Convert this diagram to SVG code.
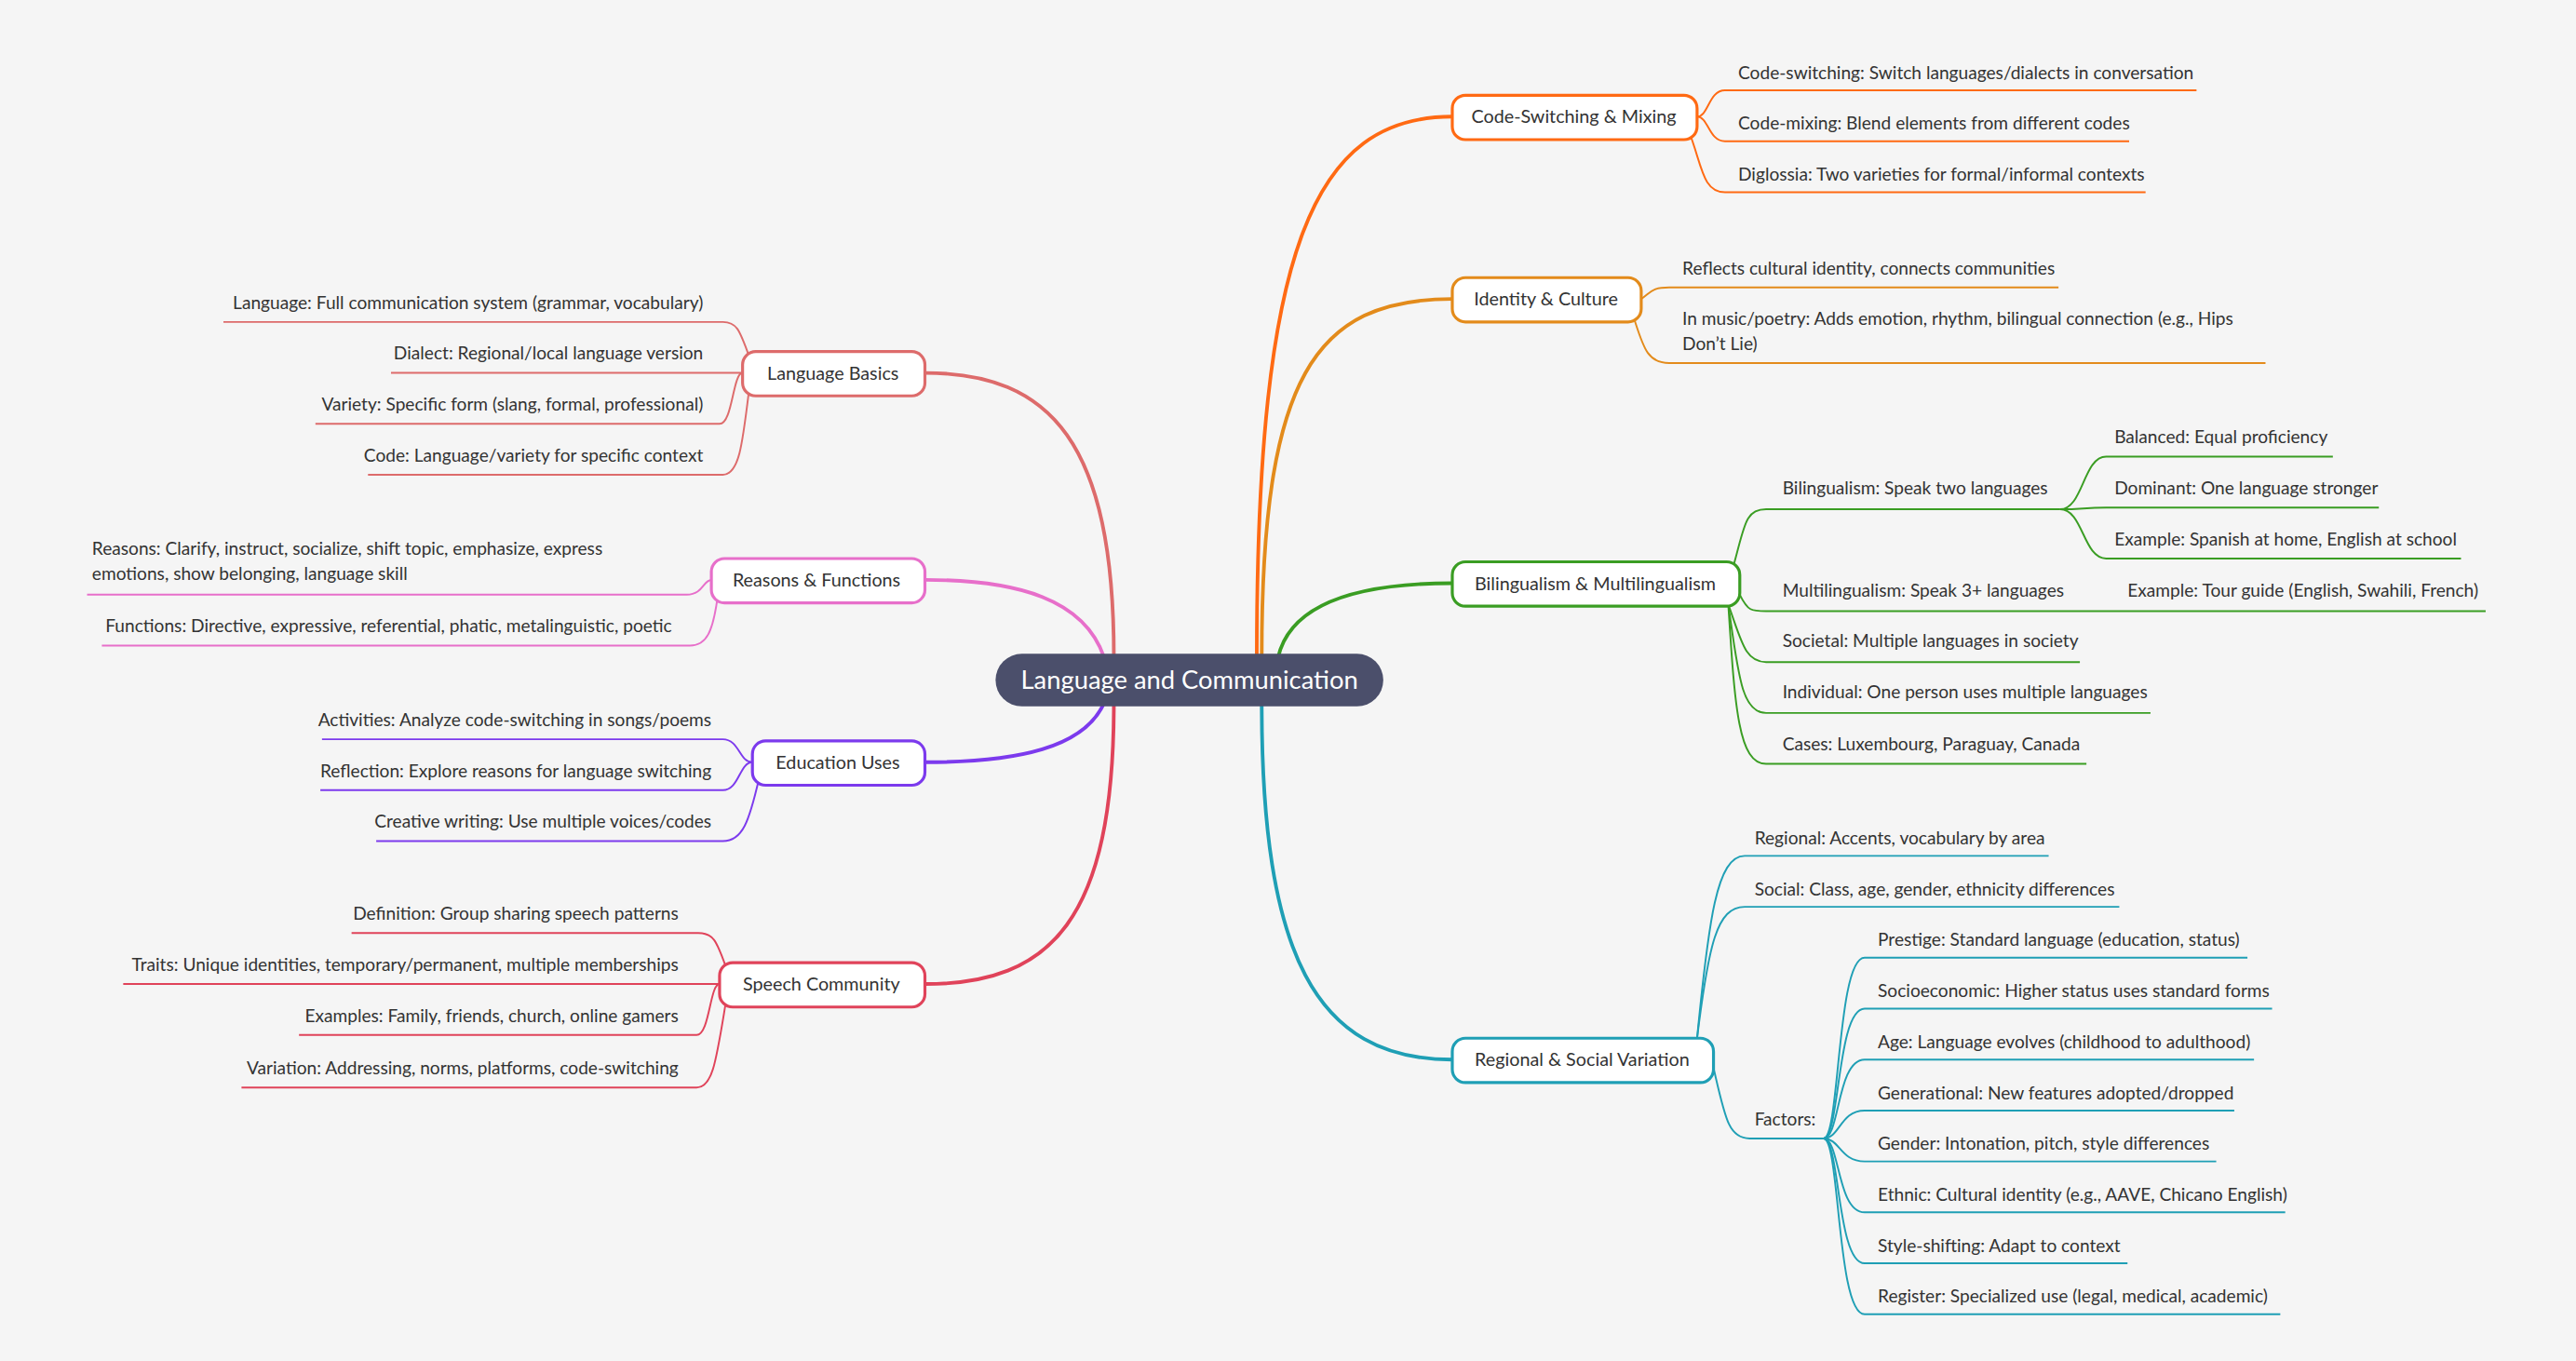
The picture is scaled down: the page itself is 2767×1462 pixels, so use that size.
<svg xmlns="http://www.w3.org/2000/svg" width="2767" height="1462" viewBox="0 0 2767 1462">
<style>
text{font-family:Lato,"Noto Sans",sans-serif;font-size:10.85px;fill:#333}
.n{font-size:11.2px;text-anchor:middle}
.e{text-anchor:end}
.c path{fill:none}
.b{fill:#fff;stroke-width:1.8}
</style>
<rect width="2767" height="1462" fill="#f5f5f5"/>
<g transform="scale(1.76467)">
<g id="connectors" class="c">
<path d="M765,400 C765,150 800,71 884,71" stroke="#ff6a13" stroke-width="2.2"/>
<path d="M768,400 C768,230 800,182 884,182" stroke="#e38b1b" stroke-width="2.2"/>
<path d="M778,400 C785,370 820,355 884,355" stroke="#3a9d23" stroke-width="2.2"/>
<path d="M768,428 C768,580 800,645 884,645" stroke="#1f9fb5" stroke-width="2.2"/>
<path d="M678,400 C678,270 640,227 563,227" stroke="#dd6b6b" stroke-width="2.2"/>
<path d="M672,400 C660,365 620,353 563,353" stroke="#e76fca" stroke-width="2.2"/>
<path d="M672,428 C660,455 620,464 563,464" stroke="#7c3aed" stroke-width="2.2"/>
<path d="M678,428 C678,560 640,599 563,599" stroke="#e0435a" stroke-width="2.2"/>
<g stroke="#ff6a13" stroke-width="1.1">
<path d="M1033,71 C1040,71 1040,55 1050,55 L1337,55"/>
<path d="M1033,71 C1040,71 1040,86 1050,86 L1296,86"/>
<path d="M1028,80 C1036,100 1036,117 1050,117 L1306,117"/>
</g>
<g stroke="#e38b1b" stroke-width="1.1">
<path d="M999,182 C1005,178 1005,175 1016,175 L1253,175"/>
<path d="M994,192 C1000,210 1002,221 1016,221 L1379,221"/>
</g>
<g stroke="#3a9d23" stroke-width="1.1">
<path d="M1055,345 C1062,320 1062,310 1075,310 L1254,310"/>
<path d="M1254,310 C1268,310 1268,278 1282,278 L1420,278"/>
<path d="M1254,310 C1268,310 1268,309 1282,309 L1448,309"/>
<path d="M1254,310 C1268,310 1268,340 1282,340 L1498,340"/>
<path d="M1059,362 C1064,372 1066,372 1075,372 L1513,372"/>
<path d="M1052,368 C1060,390 1062,403 1075,403 L1266,403"/>
<path d="M1052,368 C1058,410 1060,434 1075,434 L1309,434"/>
<path d="M1052,368 C1056,430 1058,465 1075,465 L1270,465"/>
</g>
<g stroke="#1f9fb5" stroke-width="1.1">
<path d="M1033,632 C1040,560 1045,521 1062,521 L1247,521"/>
<path d="M1033,632 C1040,575 1045,552 1062,552 L1290,552"/>
<path d="M1043,650 C1050,680 1052,693 1065,693 L1110,693"/>
<path d="M1110,693 C1120,693 1118,583 1135,583 L1368,583"/>
<path d="M1110,693 C1120,693 1118,614 1135,614 L1383,614"/>
<path d="M1110,693 C1120,693 1118,645 1135,645 L1372,645"/>
<path d="M1110,693 C1120,693 1120,676 1135,676 L1360,676"/>
<path d="M1110,693 C1120,693 1120,707 1135,707 L1349,707"/>
<path d="M1110,693 C1120,693 1118,738 1135,738 L1391,738"/>
<path d="M1110,693 C1120,693 1118,769 1135,769 L1295,769"/>
<path d="M1110,693 C1120,693 1118,800 1135,800 L1388,800"/>
</g>
<g stroke="#dd6b6b" stroke-width="1.1">
<path d="M456,217 C450,200 448,196 440,196 L136,196"/>
<path d="M452,227 L238,227"/>
<path d="M452,227 C446,227 446,258 438,258 L192,258"/>
<path d="M456,237 C452,270 450,289 440,289 L224,289"/>
</g>
<g stroke="#e76fca" stroke-width="1.1">
<path d="M433,353 C428,353 428,362 418,362 L53,362"/>
<path d="M437,362 C434,385 430,393 420,393 L62,393"/>
</g>
<g stroke="#7c3aed" stroke-width="1.1">
<path d="M458,464 C450,464 450,450 440,450 L196,450"/>
<path d="M458,464 C450,464 450,481 440,481 L195,481"/>
<path d="M462,474 C456,500 452,512 440,512 L229,512"/>
</g>
<g stroke="#e0435a" stroke-width="1.1">
<path d="M442,589 C436,572 434,568 425,568 L214,568"/>
<path d="M438,599 L75,599"/>
<path d="M438,599 C432,599 432,630 424,630 L182,630"/>
<path d="M442,609 C436,645 434,662 424,662 L147,662"/>
</g>
</g>

<g id="root"><rect x="606" y="398" width="236" height="32" rx="16" fill="#4b4f6b"/><text x="724" y="419.5" class="n" style="font-size:15.5px;fill:#fff">Language and Communication</text></g>

<g id="code-switching"><rect class="b" x="884" y="58" width="149" height="27" rx="8" stroke="#ff6a13"/><text class="n" x="958" y="75">Code-Switching &amp; Mixing</text>
<text x="1058" y="48">Code-switching: Switch languages/dialects in conversation</text>
<text x="1058" y="79">Code-mixing: Blend elements from different codes</text>
<text x="1058" y="110">Diglossia: Two varieties for formal/informal contexts</text></g>

<g id="identity"><rect class="b" x="884" y="169" width="115" height="27" rx="8" stroke="#e38b1b"/><text class="n" x="941" y="186">Identity &amp; Culture</text>
<text x="1024" y="167">Reflects cultural identity, connects communities</text>
<text x="1024" y="198">In music/poetry: Adds emotion, rhythm, bilingual connection (e.g., Hips</text>
<text x="1024" y="213">Don’t Lie)</text></g>

<g id="bilingualism"><rect class="b" x="884" y="342" width="175" height="27" rx="8" stroke="#3a9d23"/><text class="n" x="971" y="359">Bilingualism &amp; Multilingualism</text>
<text x="1085" y="301">Bilingualism: Speak two languages</text>
<text x="1287" y="270">Balanced: Equal proficiency</text>
<text x="1287" y="301">Dominant: One language stronger</text>
<text x="1287" y="332">Example: Spanish at home, English at school</text>
<text x="1085" y="363">Multilingualism: Speak 3+ languages</text>
<text x="1295" y="363">Example: Tour guide (English, Swahili, French)</text>
<text x="1085" y="394">Societal: Multiple languages in society</text>
<text x="1085" y="425">Individual: One person uses multiple languages</text>
<text x="1085" y="457">Cases: Luxembourg, Paraguay, Canada</text></g>

<g id="variation"><rect class="b" x="884" y="632" width="159" height="27" rx="8" stroke="#1f9fb5"/><text class="n" x="963" y="649">Regional &amp; Social Variation</text>
<text x="1068" y="514">Regional: Accents, vocabulary by area</text>
<text x="1068" y="545">Social: Class, age, gender, ethnicity differences</text>
<text x="1068" y="685">Factors:</text>
<text x="1143" y="576">Prestige: Standard language (education, status)</text>
<text x="1143" y="607">Socioeconomic: Higher status uses standard forms</text>
<text x="1143" y="638">Age: Language evolves (childhood to adulthood)</text>
<text x="1143" y="669">Generational: New features adopted/dropped</text>
<text x="1143" y="700">Gender: Intonation, pitch, style differences</text>
<text x="1143" y="731">Ethnic: Cultural identity (e.g., AAVE, Chicano English)</text>
<text x="1143" y="762">Style-shifting: Adapt to context</text>
<text x="1143" y="793">Register: Specialized use (legal, medical, academic)</text></g>

<g id="basics"><rect class="b" x="452" y="214" width="111" height="27" rx="8" stroke="#dd6b6b"/><text class="n" x="507" y="231">Language Basics</text>
<text class="e" x="428" y="188">Language: Full communication system (grammar, vocabulary)</text>
<text class="e" x="428" y="219">Dialect: Regional/local language version</text>
<text class="e" x="428" y="250">Variety: Specific form (slang, formal, professional)</text>
<text class="e" x="428" y="281">Code: Language/variety for specific context</text></g>

<g id="reasons"><rect class="b" x="433" y="340" width="130" height="27" rx="8" stroke="#e76fca"/><text class="n" x="497" y="357">Reasons &amp; Functions</text>
<text x="56" y="338">Reasons: Clarify, instruct, socialize, shift topic, emphasize, express</text>
<text x="56" y="353">emotions, show belonging, language skill</text>
<text class="e" x="409" y="385">Functions: Directive, expressive, referential, phatic, metalinguistic, poetic</text></g>

<g id="education"><rect class="b" x="458" y="451" width="105" height="27" rx="8" stroke="#7c3aed"/><text class="n" x="510" y="468">Education Uses</text>
<text class="e" x="433" y="442">Activities: Analyze code-switching in songs/poems</text>
<text class="e" x="433" y="473">Reflection: Explore reasons for language switching</text>
<text class="e" x="433" y="504">Creative writing: Use multiple voices/codes</text></g>

<g id="speech"><rect class="b" x="438" y="586" width="125" height="27" rx="8" stroke="#e0435a"/><text class="n" x="500" y="603">Speech Community</text>
<text class="e" x="413" y="560">Definition: Group sharing speech patterns</text>
<text class="e" x="413" y="591">Traits: Unique identities, temporary/permanent, multiple memberships</text>
<text class="e" x="413" y="622">Examples: Family, friends, church, online gamers</text>
<text class="e" x="413" y="654">Variation: Addressing, norms, platforms, code-switching</text></g>
</g>
</svg>
